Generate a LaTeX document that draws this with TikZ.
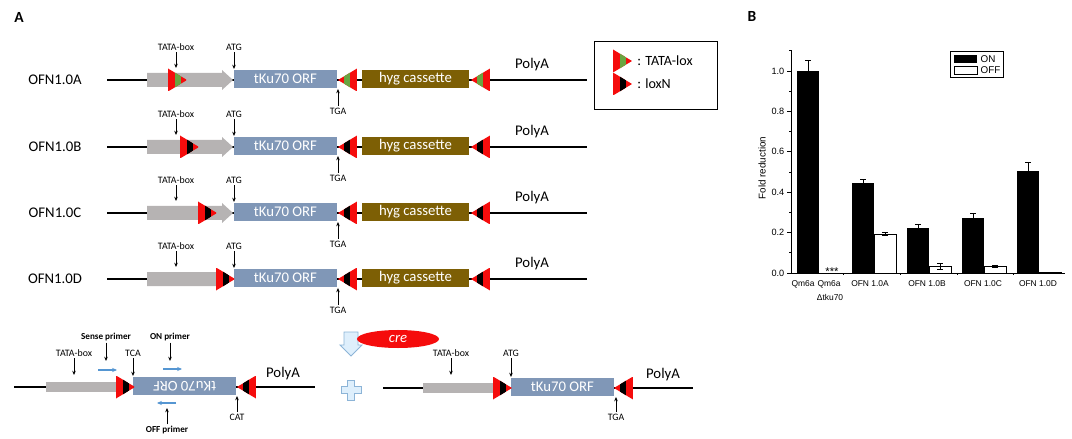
\documentclass[tikz,border=0pt]{standalone}
\usepackage{fontspec}
\setmainfont{Carlito}
\newfontfamily\chartfont{Liberation Sans}
\usetikzlibrary{shapes, arrows.meta, positioning, calc}

\definecolor{promgray}{RGB}{182,179,179}
\definecolor{orfblue}{RGB}{128,151,183}
\definecolor{hygbrown}{RGB}{125,95,5}
\definecolor{loxred}{RGB}{245,12,12}
\definecolor{loxgreen}{RGB}{105,165,65}
\definecolor{primerblue}{RGB}{85,150,210}
\definecolor{arrowfill}{RGB}{222,239,252}
\definecolor{arrowedge}{RGB}{140,180,215}

\tikzset{
	pics/lox/.style={code={
		\begin{scope}
			\clip (0,-11.5) -- (0,11.5) -- (19,0) -- cycle;
			\fill[loxred] (0,-11.5) rectangle (19,11.5);
			\fill[fill=#1] (7,-11.5) rectangle (13,11.5);
		\end{scope}
	}},
	pics/loxl/.style={code={
		\begin{scope}
			\clip (0,-11.5) -- (0,11.5) -- (-19,0) -- cycle;
			\fill[loxred] (0,-11.5) rectangle (-19,11.5);
			\fill[fill=#1] (-7,-11.5) rectangle (-13,11.5);
		\end{scope}
	}}
}

\begin{document}
\begin{tikzpicture}[
			x=0.025cm, y=-0.025cm,
			panel/.style={font=\bfseries\fontsize{11}{13}\selectfont},
			rowlabel/.style={font=\fontsize{10.5}{12}\selectfont},
			orf/.style={rectangle, fill=orfblue, text=white, minimum width=2.575cm, minimum height=0.46cm, inner sep=0pt, font=\fontsize{10.5}{12}\selectfont},
			hyg/.style={rectangle, fill=hygbrown, text=white, minimum width=2.675cm, minimum height=0.46cm, inner sep=0pt, font=\fontsize{10.5}{12}\selectfont},
			site/.style={font=\fontsize{7}{8}\selectfont, inner sep=1pt},
			primer/.style={font=\bfseries\fontsize{6.5}{8}\selectfont, inner sep=1pt},
			backbone/.style={line width=0.75pt},
			pointer/.style={-{Stealth[length=3pt, width=2.5pt]}, line width=0.6pt},
			primerarrow/.style={-{Stealth[length=3.5pt, width=3pt]}, primerblue, line width=0.9pt},
			axislab/.style={font=\chartfont\fontsize{6}{7}\selectfont, inner sep=1pt},
			keylab/.style={font=\chartfont\fontsize{7}{8}\selectfont, inner sep=1pt, anchor=west}
			]
			\useasboundingbox (0,0) rectangle (1072,439);
			
			\node[panel] (panelA) at (19,17) {A};
			
			\foreach \nm/\yy/\lx/\mid/\bx/\tip/\hh in {A/80/168/loxgreen/222/233/10, B/147/180/black/222/233/10, C/213/198/black/222/233/10, D/279/216/black/217/217/7}{
				\node[rowlabel] (lbl\nm) at (55,\yy) {OFN1.0\nm};
				\coordinate (start\nm) at (107,\yy);
				\coordinate (end\nm) at (587,\yy);
				\draw[backbone] (start\nm) -- (end\nm);
				\fill[promgray] (147,\yy-7) -- (\bx,\yy-7) -- (\bx,\yy-\hh) -- (\tip,\yy) -- (\bx,\yy+\hh) -- (\bx,\yy+7) -- (147,\yy+7) -- cycle;
				\node[orf] (orf\nm) at (285.5,\yy-1) {tKu70 ORF};
				\node[hyg] (hyg\nm) at (415.5,\yy-1) {hyg cassette};
				\pic at (\lx,\yy) {lox=\mid};
				\pic at (357,\yy) {loxl=\mid};
				\pic at (490,\yy) {loxl=\mid};
				\node[site] (tata\nm) at (176,\yy-33) {TATA-box};
				\coordinate (tatapt\nm) at (176,\yy-12);
				\draw[pointer] (tata\nm) -- (tatapt\nm);
				\node[site] (atg\nm) at (234,\yy-33) {ATG};
				\coordinate (atgpt\nm) at (234,\yy-11);
				\draw[pointer] (atg\nm) -- (atgpt\nm);
				\node[site] (tga\nm) at (338,\yy+31) {TGA};
				\coordinate (tgapt\nm) at (338,\yy+9);
				\draw[pointer] (tga\nm) -- (tgapt\nm);
				\node[rowlabel] (polya\nm) at (532,\yy-15) {PolyA};
			}
			
			\node[draw, line width=0.6pt, minimum width=3.075cm, minimum height=1.7cm] (legend) at (655.5,75) {};
			\pic at (613,61) {lox=loxgreen};
			\node[font=\fontsize{10}{12}\selectfont, anchor=west, inner sep=0pt] (keytata) at (637,61) {: TATA-lox};
			\pic at (613,84) {lox=black};
			\node[font=\fontsize{10}{12}\selectfont, anchor=west, inner sep=0pt] (keyloxn) at (637,84) {: loxN};
			
			\coordinate (offstart) at (14,387);
			\coordinate (offend) at (315,387);
			\draw[backbone] (offstart) -- (offend);
			\fill[promgray] (46,382) rectangle (117,392);
			\node[orf, rotate=180] (orfoff) at (184.5,386) {tKu70 ORF};
			\pic at (116,387) {lox=black};
			\pic at (256,387) {loxl=black};
			\node[site] (tataoff) at (74,353) {TATA-box};
			\coordinate (tataoffpt) at (74,375);
			\draw[pointer] (tataoff) -- (tataoffpt);
			\node[primer] (sense) at (106,337) {Sense primer};
			\coordinate (sensept) at (106,361);
			\draw[pointer] (sense) -- (sensept);
			\coordinate (sensea) at (98,370);
			\coordinate (senseb) at (117,370);
			\draw[primerarrow] (sensea) -- (senseb);
			\node[site] (tca) at (133,353) {TCA};
			\coordinate (tcapt) at (133,376);
			\draw[pointer] (tca) -- (tcapt);
			\node[primer] (onprimer) at (170,337) {ON primer};
			\coordinate (onpt) at (170,361);
			\draw[pointer] (onprimer) -- (onpt);
			\coordinate (ona) at (163,369);
			\coordinate (onb) at (182,369);
			\draw[primerarrow] (ona) -- (onb);
			\coordinate (offa) at (176,403);
			\coordinate (offb) at (157,403);
			\draw[primerarrow] (offa) -- (offb);
			\node[primer] (offprimer) at (167,430) {OFF primer};
			\coordinate (offpt) at (167,408);
			\draw[pointer] (offprimer) -- (offpt);
			\node[site] (cat) at (237,417) {CAT};
			\coordinate (catpt) at (237,396);
			\draw[pointer] (cat) -- (catpt);
			\node[rowlabel] (polyaoff) at (283,374) {PolyA};
			
			\draw[arrowedge, fill=arrowfill, line width=0.6pt] (344,332) -- (358,332) -- (358,345) -- (362,345) -- (351,356) -- (340,345) -- (344,345) -- cycle;
			\node[ellipse, fill=loxred, minimum width=2.05cm, minimum height=0.45cm, inner sep=0pt, text=white, font=\itshape\fontsize{10.5}{12}\selectfont] (cre) at (398,339) {cre};
			\draw[arrowedge, fill=arrowfill, line width=0.6pt] (347.5,380) -- (354.5,380) -- (354.5,386.5) -- (361,386.5) -- (361,393.5) -- (354.5,393.5) -- (354.5,400) -- (347.5,400) -- (347.5,393.5) -- (341,393.5) -- (341,386.5) -- (347.5,386.5) -- cycle;
			
			\coordinate (onstart) at (383,388);
			\coordinate (onend) at (693,388);
			\draw[backbone] (onstart) -- (onend);
			\fill[promgray] (423,383) rectangle (494,393);
			\node[orf] (orfon) at (562.5,387) {tKu70 ORF};
			\pic at (493,388) {lox=black};
			\pic at (633,388) {loxl=black};
			\node[site] (tataon) at (451,353) {TATA-box};
			\coordinate (tataonpt) at (451,375);
			\draw[pointer] (tataon) -- (tataonpt);
			\node[site] (atgon) at (511,353) {ATG};
			\coordinate (atgonpt) at (511,377);
			\draw[pointer] (atgon) -- (atgonpt);
			\node[site] (tgaon) at (616,417) {TGA};
			\coordinate (tgaonpt) at (616,397);
			\draw[pointer] (tgaon) -- (tgaonpt);
			\node[rowlabel] (polyaon) at (663,375) {PolyA};
			
			\node[panel] (panelB) at (752,16) {B};
			\begin{scope}[shift={(791,273)}, y=5.05cm, line width=0.5pt]
				\draw (0,0) -- (0,1.104);
				\draw (0,0) -- (274,0);
				\foreach \v/\t [count=\i] in {0/0.0, 0.2/0.2, 0.4/0.4, 0.6/0.6, 0.8/0.8, 1/1.0}{
					\draw (0,\v) -- (-4,\v);
					\node[axislab, anchor=east, font=\chartfont\fontsize{6.5}{7.5}\selectfont] (ytick\i) at (-5,\v) {\t};
				}
				\foreach \v in {0.1, 0.3, 0.5, 0.7, 0.9, 1.1}
					\draw (0,\v) -- (-2,\v);
				\foreach \u in {52, 109, 166, 222}
					\draw (\u,0) -- (\u,-0.012);
				\foreach \bx/\bv/\be in {6/1.0/0.053, 61/0.445/0.02, 116/0.223/0.02, 171/0.273/0.024, 226/0.505/0.045}{
					\fill (\bx,0) rectangle (\bx+22,\bv);
					\draw (\bx+11,\bv) -- (\bx+11,\bv+\be);
					\draw (\bx+8,\bv+\be) -- (\bx+14,\bv+\be);
				}
				\foreach \bx/\bv/\be in {83/0.193/0.006, 138/0.033/0.015, 193/0.035/0.005, 248/0.003/0}{
					\draw[fill=white] (\bx,0) rectangle (\bx+22,\bv);
					\draw (\bx+11,\bv-\be) -- (\bx+11,\bv+\be);
					\draw (\bx+8,\bv+\be) -- (\bx+14,\bv+\be);
					\draw (\bx+8,\bv-\be) -- (\bx+14,\bv-\be);
				}
			\end{scope}
			\node[axislab, font=\chartfont\fontsize{8}{9}\selectfont] (stars) at (832,272) {***};
			\node[font=\chartfont\fontsize{7}{8}\selectfont, rotate=90] (ylabel) at (762,168) {Fold reduction};
			\node[axislab] (xqm) at (803,284) {Qm6a};
			\node[axislab] (xdel) at (829,284) {Qm6a};
			\node[axislab] (xdelb) at (830,297) {Δtku70};
			\node[axislab] (xa) at (870,284) {OFN 1.0A};
			\node[axislab] (xb) at (927,284) {OFN 1.0B};
			\node[axislab] (xc) at (983,284) {OFN 1.0C};
			\node[axislab] (xd) at (1038,284) {OFN 1.0D};
			
			\node[draw, line width=0.5pt, minimum width=1.325cm, minimum height=0.65cm, inner sep=0pt] (chartkey) at (976.5,64) {};
			\fill (954,55) rectangle (977,63);
			\draw[line width=0.5pt] (954,66) rectangle (977,74);
			\node[keylab] (keyon) at (979,59) {ON};
			\node[keylab] (keyoff) at (979,70) {OFF};
		\end{tikzpicture}
\end{document}
